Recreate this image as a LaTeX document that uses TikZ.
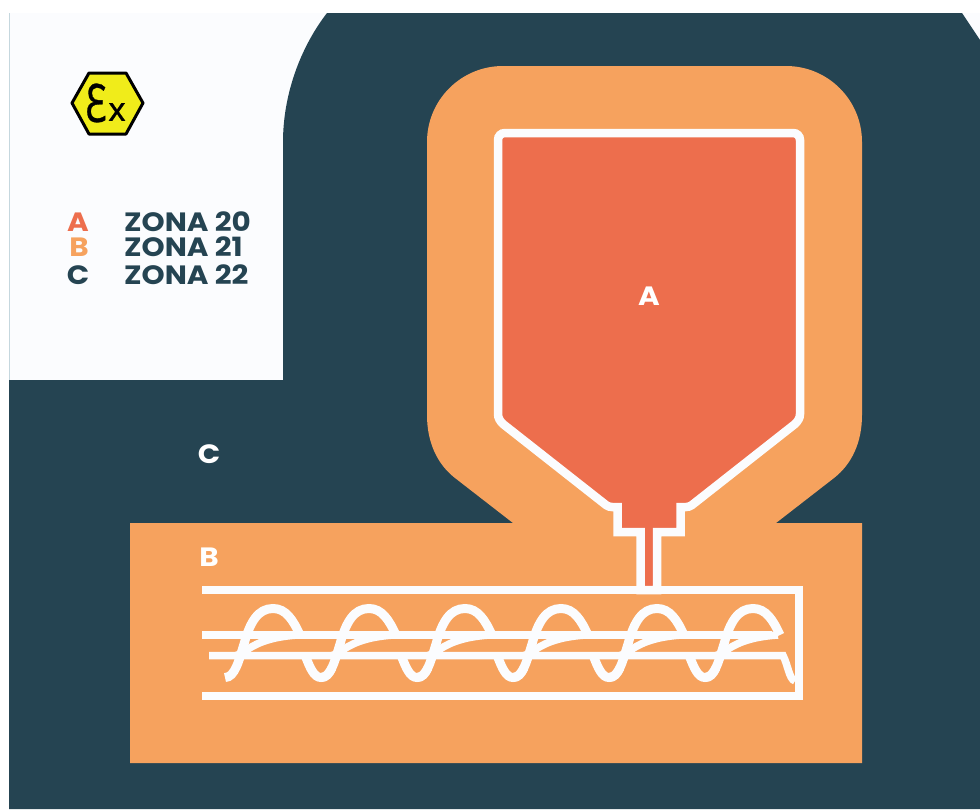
\documentclass[tikz,border=0pt]{standalone}
\usepackage{fontspec}
\setmainfont{Poppins}
\newfontfamily\zonafont{Poppins}[FakeStretch=1.11]
\newfontfamily\exsignfont{Noto Sans}[FakeStretch=0.68, FakeBold=0.6]
\newfontfamily\exxfont{Noto Sans}[FakeBold=0.8]
\usepackage{tikz}
\usetikzlibrary{positioning}
\definecolor{zonadark}{HTML}{254452}
\definecolor{zonaorange}{HTML}{F6A25E}
\definecolor{zonared}{HTML}{ED6E4D}
\definecolor{zonapanel}{HTML}{FBFCFE}
\definecolor{exyellow}{HTML}{F0EC1A}
\tikzset{
    zonaletter/.style={font=\zonafont\fontsize{26.5}{26.5}\selectfont\bfseries, inner sep=0pt},
    zonaname/.style={font=\zonafont\fontsize{26.5}{26.5}\selectfont\bfseries, inner sep=0pt, anchor=west, text=zonadark},
    wall/.style={draw=zonapanel, line width=8.5pt},
    screw/.style={draw=zonapanel, line width=9pt},
    shaftline/.style={draw=zonapanel, line width=7.5pt}
}

\begin{document}
\begin{tikzpicture}[x=1pt, y=-1pt]
    \useasboundingbox (0,0) rectangle (980,809);
    % Panel and zone C
    \fill[white] (0,0) rectangle (980,809);
    \fill[zonapanel] (9,13) rectangle (980,809);
    \draw[cyan!30!gray!40, line width=0.7pt] (9,13) -- (9,380);
    \fill[zonadark] (9,809) -- (9,380) -- (283,380) -- (283,142)
        .. controls (283,95) and (300,48) .. (327,13)
        -- (962,13) -- (980,40) -- (980,809) -- cycle;

    % Zone B
    \fill[zonaorange] (130,523) -- (513,523) -- (455,478)
        .. controls (437,464) and (427,442) .. (427,415)
        -- (427,142) .. controls (427,100) and (461,66) .. (503,66)
        -- (786,66) .. controls (828,66) and (862,100) .. (862,142)
        -- (862,415) .. controls (862,442) and (852,464) .. (834,478)
        -- (776,523) -- (862,523) -- (862,763) -- (130,763) -- cycle;

    % Zone A, the hopper
    \path[wall, fill=zonared] (505,133) -- (793,133) .. controls (797,133) and (800,136) .. (800,140)
        -- (800,414) .. controls (800,418) and (798,421) .. (795,424)
        -- (692,505) .. controls (690,506.5) and (688,507) .. (686,507)
        -- (680.5,507) -- (680.5,532) -- (657,532) -- (657,590)
        -- (640.5,590) -- (640.5,532) -- (617.5,532) -- (617.5,507)
        -- (612,507) .. controls (610,507) and (608,506.5) .. (606,505)
        -- (503,424) .. controls (500,421) and (498,418) .. (498,414)
        -- (498,140) .. controls (498,136) and (501,133) .. (505,133) -- cycle;

    % Casing
    \draw[wall] (202,590) -- (799,590) -- (799,696) -- (202,696);

    % Shaft
    \draw[shaftline] (202,635) -- (772,635);
    \draw[shaftline] (209,655.5) -- (783,655.5) .. controls (788,665) and (789,679) .. (795,681);

    % Auger
    \foreach \x in {0,96,192,288,384,480} {
        \begin{scope}[xshift=\x pt]
            \draw[screw] (225,677.5) .. controls (235,677.5) and (239,660) .. (244,644)
                .. controls (250,622) and (258,608.5) .. (273,608.5)
                .. controls (286,608.5) and (293,620) .. (300,635);
            \draw[shaftline] (236,655.5) .. controls (246,654) and (252,638) .. (298,635);
        \end{scope}
    }
    \foreach \x in {96,192,288,384,480} {
        \begin{scope}[xshift=\x pt]
            \draw[screw] (209,655) .. controls (214,668) and (218,677.5) .. (225,677.5)
                .. controls (230,677.5) and (233,674) .. (236,668);
        \end{scope}
    }

    % Ex mark
    \draw[draw=black, fill=exyellow, line width=3pt, line join=round] (72,103) -- (89,73) -- (126,73)
        -- (143,103) -- (126,134) -- (89,134) -- cycle;
    \node (exsign) [inner sep=0pt, font=\exsignfont\fontsize{53}{53}\selectfont] at (96,103) {Ɛ};
    \node (exx) [inner sep=0pt, font=\exxfont\fontsize{33}{33}\selectfont] at (117,112) {x};

    % Legend
    \node (lettera) [zonaletter, text=zonared] at (78,222) {A};
    \node (letterb) [zonaletter, text=zonaorange] at (79,247) {B};
    \node (letterc) [zonaletter, text=zonadark] at (78,275) {C};
    \node (zona20) [zonaname] at (124,222) {ZONA 20};
    \node (zona21) [zonaname] at (124,247) {ZONA 21};
    \node (zona22) [zonaname] at (124,275) {ZONA 22};

    % Zone letters
    \node (zonea) [zonaletter, text=white] at (649,296) {A};
    \node (zoneb) [zonaletter, text=white] at (209,557) {B};
    \node (zonec) [zonaletter, text=white] at (209,454) {C};
\end{tikzpicture}
\end{document}
